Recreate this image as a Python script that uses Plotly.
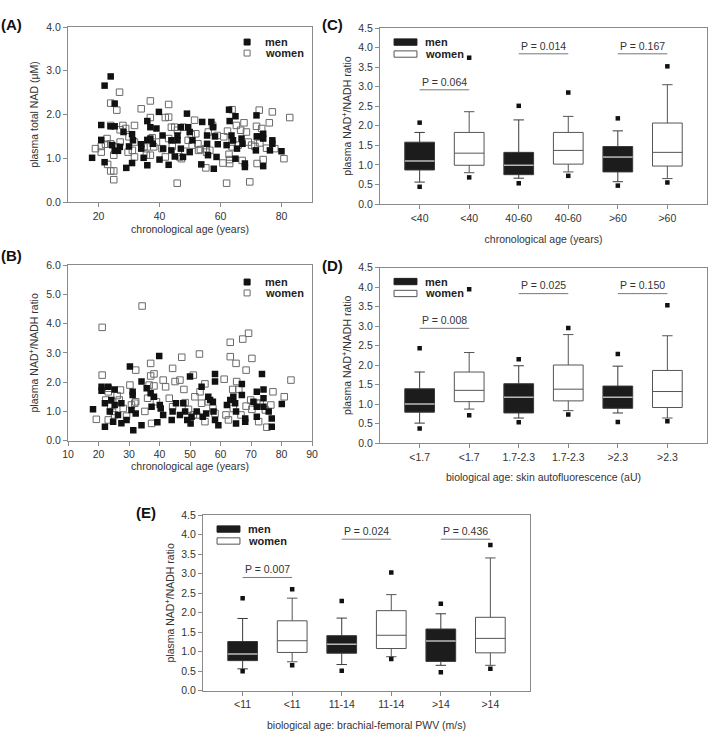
import plotly.graph_objects as go

FONT = "Liberation Sans, Arial, sans-serif"

# ---------------- Panel A: total NAD vs chronological age ----------------
a_men_age = [17.9, 20.9, 20.9, 22.0, 22.0, 24.0, 24.0, 25.3, 25.3, 24.5, 25.3, 26.4, 27.0, 28.2, 29.1, 30.0,
             31.0, 31.0, 31.3, 34.0, 34.0, 34.8, 36.0, 36.0, 36.0, 37.0, 37.0, 37.8, 39.0, 39.8, 40.0, 41.0,
             41.2, 43.0, 43.9, 43.9, 45.0, 45.9, 47.0, 47.0, 47.7, 45.9, 49.0, 49.4, 49.9, 49.9, 50.8, 53.7,
             54.0, 55.6, 55.6, 55.9, 57.0, 57.6, 57.8, 58.7, 58.2, 59.1, 62.0, 62.8, 63.0, 63.6, 64.1, 64.9,
             64.9, 65.4, 66.9, 67.2, 68.0, 68.0, 71.8, 71.6, 72.0, 74.0, 74.0, 74.0, 76.2, 77.0, 77.0, 80.0]
a_men_nad = [1.01, 1.76, 1.42, 2.66, 0.91, 2.87, 1.73, 2.25, 1.73, 1.30, 1.17, 1.17, 1.26, 1.60, 0.78, 1.27,
             1.55, 0.89, 1.41, 1.32, 1.22, 1.01, 0.84, 1.85, 1.42, 1.71, 1.45, 1.33, 1.68, 2.06, 0.97, 1.52,
             1.22, 0.85, 1.41, 1.18, 1.04, 1.41, 1.71, 1.22, 1.03, 1.52, 2.02, 1.71, 1.60, 1.14, 1.41, 0.86,
             1.83, 1.52, 1.33, 1.07, 1.83, 1.71, 0.76, 1.03, 1.50, 1.32, 1.30, 2.11, 1.85, 1.52, 1.41, 1.96,
             0.99, 1.22, 1.45, 1.33, 0.80, 0.88, 1.98, 1.18, 1.50, 1.56, 1.45, 0.82, 1.18, 1.33, 1.41, 1.16]
a_women_age = [19.0, 20.9, 20.9, 22.3, 22.8, 23.0, 24.0, 24.0, 24.0, 24.0, 25.0, 25.0, 25.0, 26.0, 25.8, 26.9,
               27.1, 27.1, 28.0, 28.9, 29.7, 30.0, 31.1, 31.8, 31.8, 31.8, 34.0, 34.9, 35.7, 36.0, 37.0, 37.0,
               37.0, 37.6, 38.1, 39.0, 40.8, 41.9, 41.9, 43.0, 43.0, 43.0, 43.9, 44.2, 45.0, 45.9, 45.8, 46.6,
               47.2, 47.7, 48.3, 49.4, 50.4, 50.7, 51.5, 51.9, 52.6, 52.8, 53.4, 55.2, 55.2, 55.4, 56.0, 56.5,
               57.4, 58.9, 60.8, 61.1, 62.0, 62.3, 62.8, 63.0, 63.0, 63.8, 63.8, 63.8, 65.2, 65.8, 66.6, 67.1,
               67.7, 68.5, 69.1, 69.6, 70.2, 71.3, 71.8, 72.0, 72.0, 72.7, 72.9, 73.5, 74.0, 75.1, 76.0, 77.0,
               77.8, 80.8, 82.7]
a_women_nad = [1.22, 1.27, 1.14, 1.32, 1.45, 0.86, 2.26, 1.75, 1.33, 0.71, 0.71, 0.51, 1.07, 2.10, 1.26, 2.51,
               1.65, 1.37, 1.75, 1.68, 1.14, 1.49, 1.18, 1.75, 1.37, 1.03, 2.13, 1.26, 1.07, 1.26, 2.31, 1.93,
               1.07, 1.47, 1.26, 1.37, 1.22, 1.93, 1.03, 2.23, 1.94, 1.45, 1.71, 1.27, 1.71, 1.64, 0.43, 1.03,
               0.99, 1.71, 1.16, 1.41, 1.54, 1.30, 1.87, 1.56, 1.33, 1.18, 1.20, 0.78, 1.22, 1.14, 1.60, 1.18,
               1.75, 1.52, 0.89, 1.49, 0.43, 1.62, 1.09, 0.97, 0.88, 2.11, 1.37, 1.26, 1.75, 1.30, 1.64, 0.95,
               1.81, 1.60, 1.37, 0.46, 1.30, 1.27, 1.73, 1.49, 0.88, 2.10, 1.35, 1.68, 0.97, 1.23, 1.81, 2.06,
               1.22, 0.99, 1.93]

# ---------------- Panel B: NAD+/NADH ratio vs chronological age ----------------
b_men_age = [18.2, 21.0, 21.0, 22.1, 22.1, 23.2, 23.7, 24.2, 24.8, 25.3, 25.3, 26.4, 27.5, 27.5, 29.2, 30.3,
             30.8, 31.2, 31.2, 31.4, 32.2, 34.1, 34.1, 35.8, 37.1, 37.4, 38.2, 39.3, 39.9, 40.1, 40.4, 41.2,
             44.0, 44.3, 45.4, 46.7, 47.8, 48.4, 49.1, 50.0, 50.2, 50.5, 52.2, 53.8, 54.2, 55.3, 56.0, 56.6,
             57.5, 57.7, 58.2, 58.2, 58.2, 59.3, 62.1, 63.2, 64.2, 64.8, 65.1, 65.1, 67.0, 67.0, 68.1, 68.1,
             70.8, 71.9, 71.9, 71.9, 73.6, 74.1, 74.1, 74.1, 75.8, 76.8, 76.8, 80.1]
b_men_ratio = [1.07, 1.84, 1.71, 1.28, 0.48, 1.84, 1.00, 1.39, 0.65, 1.75, 1.22, 0.88, 1.28, 0.60, 0.71, 2.53,
               1.05, 1.67, 1.56, 0.36, 0.93, 0.53, 2.02, 1.79, 1.62, 1.16, 1.50, 0.63, 2.89, 1.22, 1.10, 0.88,
               0.71, 1.00, 1.28, 0.88, 1.28, 1.00, 0.71, 2.19, 0.59, 0.82, 1.00, 1.84, 0.82, 0.93, 1.50, 1.39,
               1.33, 1.00, 2.28, 2.02, 0.71, 0.53, 1.22, 1.39, 1.50, 1.28, 1.00, 0.59, 1.94, 1.56, 0.76, 0.65,
               1.33, 1.67, 0.82, 1.16, 2.28, 1.75, 1.45, 1.16, 1.00, 0.76, 0.48, 1.25]
b_women_age = [19.3, 21.2, 21.2, 22.4, 23.2, 23.2, 23.2, 24.0, 24.6, 25.3, 26.1, 26.8, 27.2, 28.1, 29.2, 30.3,
               30.8, 31.9, 32.2, 32.2, 34.3, 35.2, 36.1, 36.6, 37.1, 37.1, 37.4, 38.2, 38.2, 39.0, 41.2, 42.0,
               43.2, 44.3, 44.3, 45.1, 46.7, 47.3, 48.0, 48.4, 49.5, 51.1, 51.1, 51.6, 52.2, 53.1, 53.3, 53.8,
               54.9, 54.9, 56.0, 57.5, 58.2, 61.2, 61.8, 62.6, 63.2, 63.2, 64.0, 64.2, 65.1, 65.3, 66.0, 66.7,
               67.3, 68.4, 68.4, 69.2, 69.9, 70.3, 70.3, 71.9, 72.5, 73.0, 74.7, 75.2, 76.5, 77.2, 80.9, 83.1]
b_women_ratio = [0.73, 3.87, 2.24, 1.39, 1.79, 1.67, 0.71, 1.16, 1.00, 0.88, 1.54, 1.39, 1.73, 1.10, 0.84, 1.90,
                 1.22, 1.28, 2.41, 1.33, 4.60, 1.00, 1.45, 1.90, 2.64, 2.21, 0.59, 2.28, 1.87, 1.33, 2.07, 1.84,
                 1.45, 2.47, 1.16, 2.02, 2.07, 2.85, 1.75, 1.30, 1.07, 2.24, 0.88, 1.50, 0.88, 2.96, 1.67, 1.28,
                 1.94, 0.65, 1.33, 1.10, 0.93, 2.10, 0.88, 0.71, 3.36, 2.87, 1.75, 1.10, 2.64, 2.02, 1.75, 0.88,
                 3.47, 2.41, 1.18, 3.67, 1.39, 2.81, 1.07, 1.28, 0.65, 1.28, 1.05, 0.46, 1.22, 1.67, 1.50, 2.07]

# ---------------- Panels C, D, E: box summaries (men, women per category) ----------------
c_cats = ["<40", "<40", "40-60", "40-60", ">60", ">60"]
c_men_lo = [0.56, 0.66, 0.57]
c_men_q1 = [0.87, 0.75, 0.82]
c_men_med = [1.10, 0.99, 1.20]
c_men_q3 = [1.58, 1.32, 1.47]
c_men_hi = [1.83, 2.15, 1.87]
c_men_out_lo = [0.44, 0.53, 0.47]
c_men_out_hi = [2.08, 2.51, 2.19]
c_women_lo = [0.80, 0.82, 0.65]
c_women_q1 = [0.99, 1.02, 0.97]
c_women_med = [1.30, 1.37, 1.32]
c_women_q3 = [1.83, 1.83, 2.07]
c_women_hi = [2.36, 2.24, 3.05]
c_women_out_lo = [0.68, 0.72, 0.55]
c_women_out_hi = [3.74, 2.85, 3.52]
c_p_text = ["P = 0.064", "P = 0.014", "P = 0.167"]
c_p_level = [2.92, 3.84, 3.84]

d_cats = ["<1.7", "<1.7", "1.7-2.3", "1.7-2.3", ">2.3", ">2.3"]
d_men_lo = [0.51, 0.64, 0.77]
d_men_q1 = [0.79, 0.77, 0.89]
d_men_med = [1.00, 1.17, 1.17]
d_men_q3 = [1.39, 1.52, 1.46]
d_men_hi = [1.82, 1.98, 1.97]
d_men_out_lo = [0.37, 0.53, 0.54]
d_men_out_hi = [2.43, 2.15, 2.28]
d_women_lo = [0.87, 0.83, 0.64]
d_women_q1 = [1.06, 1.08, 0.91]
d_women_med = [1.35, 1.38, 1.32]
d_women_q3 = [1.82, 2.00, 1.86]
d_women_hi = [2.32, 2.78, 2.75]
d_women_out_lo = [0.71, 0.73, 0.56]
d_women_out_hi = [3.94, 2.95, 3.53]
d_p_text = ["P = 0.008", "P = 0.025", "P = 0.150"]
d_p_level = [2.94, 3.83, 3.83]

e_cats = ["<11", "<11", "11-14", "11-14", ">14", ">14"]
e_men_lo = [0.56, 0.67, 0.65]
e_men_q1 = [0.77, 0.96, 0.75]
e_men_med = [0.94, 1.19, 1.27]
e_men_q3 = [1.26, 1.41, 1.58]
e_men_hi = [1.85, 1.86, 1.97]
e_men_out_lo = [0.50, 0.51, 0.47]
e_men_out_hi = [2.37, 2.30, 2.23]
e_women_lo = [0.74, 0.87, 0.65]
e_women_q1 = [0.98, 1.08, 0.97]
e_women_med = [1.28, 1.42, 1.34]
e_women_q3 = [1.79, 2.05, 1.88]
e_women_hi = [2.37, 2.46, 3.40]
e_women_out_lo = [0.65, 0.81, 0.56]
e_women_out_hi = [2.60, 3.03, 3.73]
e_p_text = ["P = 0.007", "P = 0.024", "P = 0.436"]
e_p_level = [2.90, 3.88, 3.88]

# ---------------- figure ----------------
fig = go.Figure()
AX_COLOR = "#8a8a8a"
TXT = "#333333"


def axis_style(domain, anchor, **kw):
    d = dict(domain=domain, anchor=anchor, automargin=False, showline=True, mirror=True,
             linecolor=AX_COLOR, linewidth=1, ticks="outside", ticklen=4, tickcolor=AX_COLOR,
             showgrid=False, zeroline=False, tickfont=dict(family=FONT, size=10.5, color=TXT))
    d.update(kw)
    return d


def ttl(text, standoff):
    return dict(text=text, font=dict(family=FONT, size=10.5, color=TXT), standoff=standoff)


# scatter panels
for xa, ya, mx, my, wx, wy in [("x", "y", a_men_age, a_men_nad, a_women_age, a_women_nad),
                               ("x2", "y2", b_men_age, b_men_ratio, b_women_age, b_women_ratio)]:
    fig.add_trace(go.Scatter(x=wx, y=wy, mode="markers", xaxis=xa, yaxis=ya, showlegend=False,
                             marker=dict(symbol="square-open", size=6.5, color="#6a6a6a",
                                         line=dict(width=1, color="#6a6a6a"))))
    fig.add_trace(go.Scatter(x=mx, y=my, mode="markers", xaxis=xa, yaxis=ya, showlegend=False,
                             marker=dict(symbol="square", size=6.5, color="#111111")))


def box_panel(xa, ya, men, women, p_text, p_level):
    men_pos = [0, 2, 4]
    women_pos = [1, 3, 5]
    half = 0.3
    for pos, st, fill, lc in [(men_pos, men, "#1c1c1c", "#3a3a3a"), (women_pos, women, "#ffffff", "#555555")]:
        lo, q1, med, q3, hi, olo, ohi = st
        fig.add_trace(go.Box(x=pos, q1=q1, median=med, q3=q3, lowerfence=lo, upperfence=hi,
                             xaxis=xa, yaxis=ya, width=2 * half, whiskerwidth=0.35, boxpoints=False,
                             fillcolor=fill, line=dict(color=lc, width=1), showlegend=False,
                             hoverinfo="skip"))
        fig.add_trace(go.Scatter(x=pos + pos, y=list(olo) + list(ohi), mode="markers", xaxis=xa, yaxis=ya,
                                 showlegend=False,
                                 marker=dict(symbol="square", size=4.5, color="#111111")))
    # light median line on the dark boxes
    mx, my = [], []
    for p, m in zip(men_pos, men[2]):
        mx += [p - half, p + half, None]
        my += [m, m, None]
    fig.add_trace(go.Scatter(x=mx, y=my, mode="lines", xaxis=xa, yaxis=ya, showlegend=False,
                             line=dict(color="#b8b8b8", width=1.5), hoverinfo="skip"))
    # P-value brackets
    px, py = [], []
    for p, lev in zip(men_pos, p_level):
        px += [p, p + 1, None]
        py += [lev, lev, None]
    fig.add_trace(go.Scatter(x=px, y=py, mode="lines", xaxis=xa, yaxis=ya, showlegend=False,
                             line=dict(color="#777777", width=1), hoverinfo="skip"))
    for p, lev, t in zip(men_pos, p_level, p_text):
        fig.add_annotation(x=p + 0.5, y=lev + 0.21, xref=xa, yref=ya, text=t, showarrow=False,
                           font=dict(family=FONT, size=10.5, color=TXT))


box_panel("x3", "y3",
          (c_men_lo, c_men_q1, c_men_med, c_men_q3, c_men_hi, c_men_out_lo, c_men_out_hi),
          (c_women_lo, c_women_q1, c_women_med, c_women_q3, c_women_hi, c_women_out_lo, c_women_out_hi),
          c_p_text, c_p_level)
box_panel("x4", "y4",
          (d_men_lo, d_men_q1, d_men_med, d_men_q3, d_men_hi, d_men_out_lo, d_men_out_hi),
          (d_women_lo, d_women_q1, d_women_med, d_women_q3, d_women_hi, d_women_out_lo, d_women_out_hi),
          d_p_text, d_p_level)
box_panel("x5", "y5",
          (e_men_lo, e_men_q1, e_men_med, e_men_q3, e_men_hi, e_men_out_lo, e_men_out_hi),
          (e_women_lo, e_women_q1, e_women_med, e_women_q3, e_women_hi, e_women_out_lo, e_women_out_hi),
          e_p_text, e_p_level)

W, H = 720, 732


def xd(a, b):
    return [a / W, b / W]


def yd(top, bottom):
    return [1 - bottom / H, 1 - top / H]


ratio_title = "plasma NAD<sup>+</sup>/NADH ratio"
pos6 = [0, 1, 2, 3, 4, 5]

fig.update_layout(
    width=W, height=H, margin=dict(l=0, r=0, t=0, b=0, autoexpand=False),
    paper_bgcolor="white", plot_bgcolor="white", boxmode="overlay",
    font=dict(family=FONT, size=10, color=TXT),
    xaxis=axis_style(xd(68, 312), "y", range=[10, 90], tickvals=[20, 40, 60, 80],
                     title=ttl("chronological age (years)", 5)),
    yaxis=axis_style(yd(27, 202), "x", range=[0, 4], dtick=1, tickformat=".1f",
                     title=ttl("plasma total NAD (μM)", 5)),
    xaxis2=axis_style(xd(68, 312), "y2", range=[10, 90], dtick=10, tick0=10,
                      title=ttl("chronological age (years)", 2)),
    yaxis2=axis_style(yd(265, 440.7), "x2", range=[0, 6], dtick=1, tickformat=".1f",
                      title=ttl(ratio_title, 5)),
    xaxis3=axis_style(xd(380, 707), "y3", range=[-0.8, 5.8], tickvals=pos6, ticktext=c_cats,
                      title=ttl("chronological age (years)", 13)),
    yaxis3=axis_style(yd(28, 204), "x3", range=[0, 4.5], dtick=0.5, tickformat=".1f",
                      title=ttl(ratio_title, 4)),
    xaxis4=axis_style(xd(380, 707), "y4", range=[-0.8, 5.8], tickvals=pos6, ticktext=d_cats,
                      title=ttl("biological age: skin autofluorescence (aU)", 12)),
    yaxis4=axis_style(yd(267.5, 443), "x4", range=[0, 4.5], dtick=0.5, tickformat=".1f",
                      title=ttl(ratio_title, 4)),
    xaxis5=axis_style(xd(203, 530), "y5", range=[-0.8, 5.8], tickvals=pos6, ticktext=e_cats,
                      title=ttl("biological age: brachial-femoral PWV (m/s)", 12)),
    yaxis5=axis_style(yd(515, 690.7), "x5", range=[0, 4.5], dtick=0.5, tickformat=".1f",
                      title=ttl(ratio_title, 4)),
)

# panel letters
for txt, x, y in [("(A)", 11, 25), ("(B)", 11, 255), ("(C)", 332, 25), ("(D)", 332, 265), ("(E)", 146, 512)]:
    fig.add_annotation(x=x / W, y=1 - y / H, xref="paper", yref="paper", text=f"<b>{txt}</b>",
                       showarrow=False, xanchor="center", yanchor="middle",
                       font=dict(family=FONT, size=15, color="#111111"))

legend_labels = ["men", "women"]

# legends for scatter panels (square markers drawn in axis-domain coordinates)
for ax, ys in [("", [0.914, 0.851]), ("2", [0.903, 0.841])]:
    xr, yr = f"x{ax} domain", f"y{ax} domain"
    for i, (lab, yy) in enumerate(zip(legend_labels, ys)):
        filled = i == 0
        fig.add_shape(type="rect", xref=xr, yref=yr, x0=0.734 - 0.0123, x1=0.734 + 0.0123,
                      y0=yy - 0.017, y1=yy + 0.017,
                      fillcolor="#111111" if filled else "white",
                      line=dict(color="#111111" if filled else "#6a6a6a", width=1))
        fig.add_annotation(x=0.799, y=yy, xref=xr, yref=yr, text=f"<b>{lab}</b>", showarrow=False,
                           xanchor="left", yanchor="middle", font=dict(family=FONT, size=11, color="#222"))

# legends for box panels
for ax in ["3", "4", "5"]:
    xr, yr = f"x{ax} domain", f"y{ax} domain"
    for i, (lab, yy) in enumerate(zip(legend_labels, [0.92, 0.852])):
        filled = i == 0
        fig.add_shape(type="rect", xref=xr, yref=yr, x0=0.043, x1=0.113, y0=yy - 0.018, y1=yy + 0.018,
                      fillcolor="#1c1c1c" if filled else "white",
                      line=dict(color="#1c1c1c" if filled else "#555555", width=1))
        fig.add_annotation(x=0.131, y=yy, xref=xr, yref=yr, text=f"<b>{lab}</b>", showarrow=False,
                           xanchor="left", yanchor="middle", font=dict(family=FONT, size=11, color="#222"))

fig.write_html("out.html", config={"displayModeBar": False},
               post_script="document.body.style.margin='0';document.body.style.overflow='hidden';")
